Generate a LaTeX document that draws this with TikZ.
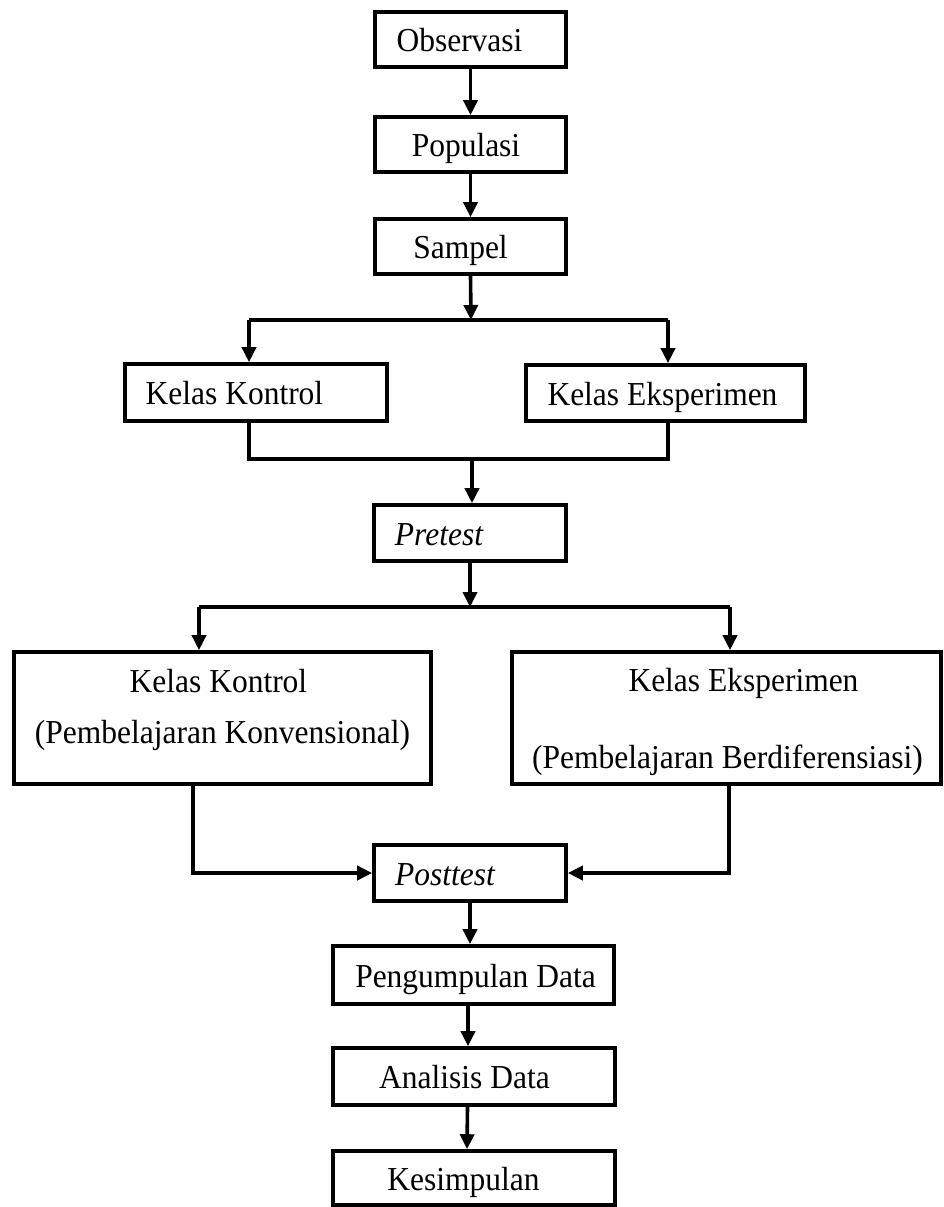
\documentclass[tikz,border=0pt]{standalone}
\usepackage{fontspec}
\setmainfont{Liberation Serif}[FakeStretch=0.94]
\usetikzlibrary{arrows.meta}
\tikzset{
  box/.style={draw=black, line width=3.6pt, rectangle, inner sep=0pt,
    text height=26pt, text depth=2pt, font=\fontsize{33.5}{40}\selectfont},
  txt/.style={inner sep=0pt, anchor=base, font=\fontsize{33.5}{40}\selectfont},
  conn/.style={draw=black, line width=3.6pt},
  arr/.style={conn, -{Triangle[length=15pt,width=14pt]}},
}
\begin{document}
\begin{tikzpicture}[x=1pt,y=-1pt]
\useasboundingbox (0,0) rectangle (943,1207);
% boxes
\node[box, minimum width=191pt, minimum height=55pt] (obs) at (470.5,39.5) {\hspace*{-22pt}Observasi};
\node[box, minimum width=191pt, minimum height=55pt] (pop) at (470.5,144.5) {\hspace*{-9pt}Populasi};
\node[box, minimum width=191pt, minimum height=55pt] (sam) at (470.5,246.5) {\hspace*{-20pt}Sampel};
\node[box, minimum width=262pt, minimum height=57pt] (kk) at (256,392.5) {\hspace*{-43pt}Kelas Kontrol};
\node[box, minimum width=279pt, minimum height=56pt] (ke) at (665.5,393) {\hspace*{-6pt}Kelas Eksperimen};
\node[box, minimum width=192pt, minimum height=56pt] (pre) at (470,533) {\itshape\hspace*{-62pt}Pretest};
\node[box, minimum width=417pt, minimum height=132pt] (bigL) at (222.5,718) {};
\node[box, minimum width=429pt, minimum height=132pt] (bigR) at (726.5,718) {};
\node[box, minimum width=192pt, minimum height=56pt] (post) at (470,873) {\itshape\hspace*{-50pt}Posttest};
\node[box, minimum width=281pt, minimum height=58pt] (peng) at (473.5,975) {\hspace*{4pt}Pengumpulan Data};
\node[box, minimum width=282pt, minimum height=57pt] (ana) at (474,1076.5) {\hspace*{-19pt}Analisis Data};
\node[box, minimum width=282pt, minimum height=54pt] (kes) at (474,1178) {\hspace*{-21pt}Kesimpulan};
% texts in the large boxes
\node[txt] (kkA) at (218.5,692) {Kelas Kontrol};
\node[txt] (kkB) at (222.5,743) {(Pembelajaran Konvensional)};
\node[txt] (keA) at (743.5,691) {Kelas Eksperimen};
\node[txt] (keB) at (727.5,768) {(Pembelajaran Berdiferensiasi)};
% junction coordinates
\coordinate (s1M) at (471,320);
\coordinate (s1L) at (249,320);
\coordinate (s1R) at (668,320);
\coordinate (j1L) at (249,459);
\coordinate (j1R) at (668,459);
\coordinate (j1M) at (472,459);
\coordinate (s2M) at (470,607);
\coordinate (s2L) at (199,607);
\coordinate (s2R) at (730,607);
\coordinate (pL) at (193,873);
\coordinate (pR) at (729,873);
% connectors
\draw[arr] (obs) -- (pop);
\draw[arr] (pop) -- (sam);
\draw[arr] (sam.south) -- (s1M);
\draw[conn] (s1L) -- (s1R);
\draw[arr] (s1L) -- (s1L |- kk.north);
\draw[arr] (s1R) -- (s1R |- ke.north);
\draw[conn] (kk.south -| j1L) -- (j1L) -- (j1R) -- (ke.south -| j1R);
\draw[arr] (j1M) -- (j1M |- pre.north);
\draw[arr] (pre.south) -- (s2M);
\draw[conn] (s2L) -- (s2R);
\draw[arr] (s2L) -- (s2L |- bigL.north);
\draw[arr] (s2R) -- (s2R |- bigR.north);
\draw[arr] (bigL.south -| pL) -- (pL) -- (post.west);
\draw[arr] (bigR.south -| pR) -- (pR) -- (post.east);
\draw[arr] (post.south) -- (post.south |- peng.north);
\draw[arr] ([xshift=-5.5pt]peng.south) -- ([xshift=-6pt]ana.north);
\draw[arr] ([xshift=-6.5pt]ana.south) -- ([xshift=-7pt]kes.north);
\end{tikzpicture}
\end{document}
